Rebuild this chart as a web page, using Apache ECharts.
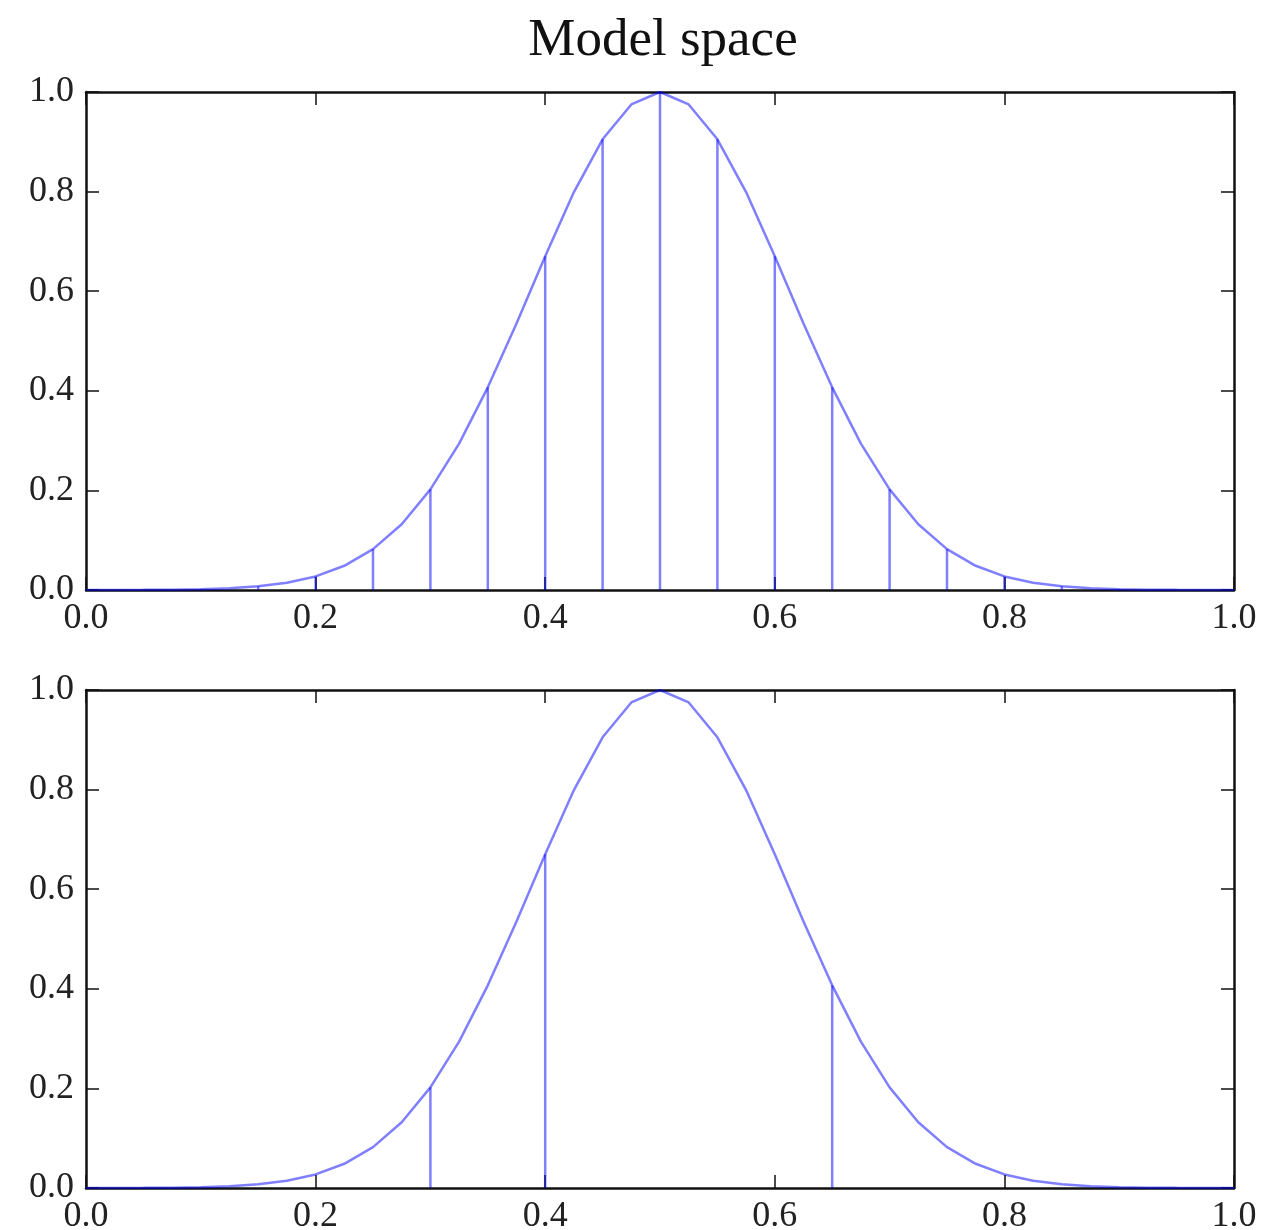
<!DOCTYPE html>
<html>
<head>
<meta charset="utf-8">
<script src="https://cdn.jsdelivr.net/npm/echarts@6/dist/echarts.min.js"></script>
<style>
  html, body { margin: 0; padding: 0; background: #fff; }
  #chart { width: 1281px; height: 1230px; }
</style>
</head>
<body>
<div id="chart"></div>
<script>
// curve samples (x, y)
var curveX = [0.0, 0.025, 0.05, 0.075, 0.1, 0.125, 0.15, 0.175, 0.2, 0.225,
  0.25, 0.275, 0.3, 0.325, 0.35, 0.375, 0.4, 0.425, 0.45, 0.475,
  0.5, 0.525, 0.55, 0.575, 0.6, 0.625, 0.65, 0.675, 0.7, 0.725,
  0.75, 0.775, 0.8, 0.825, 0.85, 0.875, 0.9, 0.925, 0.95, 0.975, 1.0];
var curveY = [0.0, 0.0001, 0.0003, 0.0007, 0.0017, 0.0036, 0.0074, 0.0146, 0.0273, 0.0486,
  0.082, 0.132, 0.202, 0.294, 0.407, 0.535, 0.670, 0.799, 0.905, 0.975,
  1.0, 0.975, 0.905, 0.799, 0.670, 0.535, 0.407, 0.294, 0.202, 0.132,
  0.082, 0.0486, 0.0273, 0.0146, 0.0074, 0.0036, 0.0017, 0.0007, 0.0003, 0.0001, 0.0];

// stems of the upper panel
var stemsTopX = [0.0, 0.05, 0.1, 0.15, 0.2, 0.25, 0.3, 0.35, 0.4, 0.45, 0.5,
  0.55, 0.6, 0.65, 0.7, 0.75, 0.8, 0.85, 0.9, 0.95, 1.0];
var stemsTopY = [0.0, 0.0003, 0.0017, 0.0074, 0.0273, 0.082, 0.202, 0.407, 0.670, 0.905, 1.0,
  0.905, 0.670, 0.407, 0.202, 0.082, 0.0273, 0.0074, 0.0017, 0.0003, 0.0];

// stems of the lower panel
var stemsBotX = [0.3, 0.4, 0.65];
var stemsBotY = [0.202, 0.670, 0.407];

var blue = "rgba(0,0,255,0.5)";
var font = "Liberation Serif";

function zip(a, b) {
  var out = [];
  for (var i = 0; i < a.length; i++) out.push([a[i], b[i]]);
  return out;
}

function stemItem(params, api) {
  var p0 = api.coord([api.value(0), 0]);
  var p1 = api.coord([api.value(0), api.value(1)]);
  return {
    type: "line",
    shape: { x1: p0[0], y1: p0[1], x2: p1[0], y2: p1[1] },
    style: { stroke: blue, lineWidth: 2.5 }
  };
}

function axisPair(kind, gridIndex, withLabels, position) {
  return {
    type: "value",
    gridIndex: gridIndex,
    position: position,
    min: 0,
    max: 1,
    interval: 0.2,
    axisLine: { show: true, onZero: false, lineStyle: { color: "#111", width: 2.5 } },
    axisTick: { show: true, inside: true, length: 13, lineStyle: { color: "#111", width: 1.5 } },
    axisLabel: {
      show: withLabels,
      margin: kind === "x" ? 11 : 12,
      fontFamily: font,
      fontSize: 36,
      color: "#222",
      formatter: function (v) { return v.toFixed(1); }
    },
    splitLine: { show: false }
  };
}

var chart = echarts.init(document.getElementById("chart"));

var option = {
  animation: false,
  backgroundColor: "#fff",
  title: {
    text: "Model space",
    left: 658,
    top: 10,
    textAlign: "center",
    textStyle: { fontFamily: font, fontSize: 53, fontWeight: "normal", color: "#111" }
  },
  grid: [
    { left: 86, top: 92, width: 1148, height: 498, outerBoundsMode: "none" },
    { left: 86, top: 690, width: 1148, height: 498, outerBoundsMode: "none" }
  ],
  xAxis: [
    axisPair("x", 0, true, "bottom"),
    axisPair("x", 0, false, "top"),
    axisPair("x", 1, true, "bottom"),
    axisPair("x", 1, false, "top")
  ],
  yAxis: [
    axisPair("y", 0, true, "left"),
    axisPair("y", 0, false, "right"),
    axisPair("y", 1, true, "left"),
    axisPair("y", 1, false, "right")
  ],
  series: [
    {
      type: "line",
      xAxisIndex: 0, yAxisIndex: 0,
      data: zip(curveX, curveY),
      symbol: "none",
      lineStyle: { color: blue, width: 2.5 }
    },
    {
      type: "custom",
      xAxisIndex: 0, yAxisIndex: 0,
      data: zip(stemsTopX, stemsTopY),
      renderItem: stemItem
    },
    {
      type: "line",
      xAxisIndex: 2, yAxisIndex: 2,
      data: zip(curveX, curveY),
      symbol: "none",
      lineStyle: { color: blue, width: 2.5 }
    },
    {
      type: "custom",
      xAxisIndex: 2, yAxisIndex: 2,
      data: zip(stemsBotX, stemsBotY),
      renderItem: stemItem
    }
  ]
};

chart.setOption(option);
</script>
</body>
</html>
